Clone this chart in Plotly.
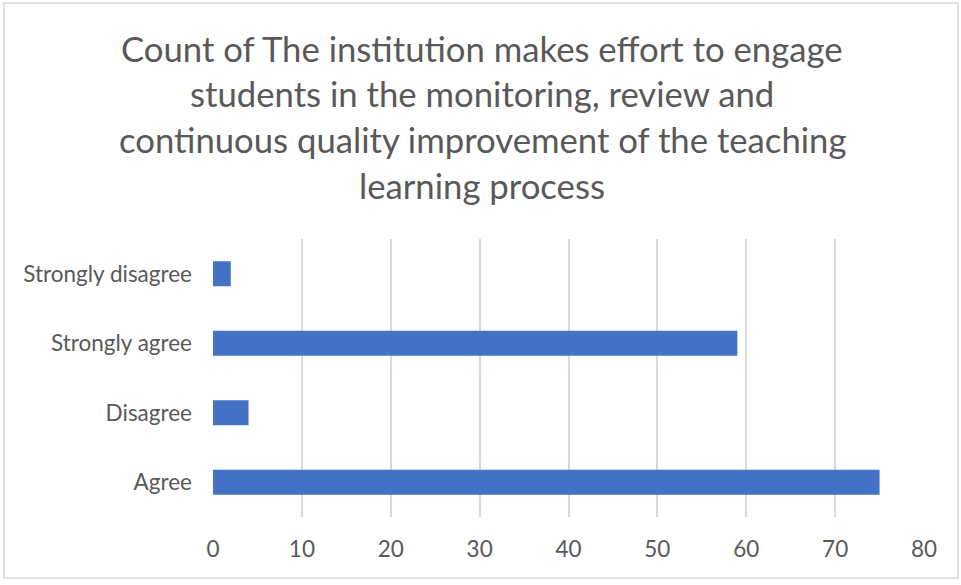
import plotly.graph_objects as go

categories = ["Agree", "Disagree", "Strongly agree", "Strongly disagree"]
counts = [75, 4, 59, 2]
x_ticks = [0, 10, 20, 30, 40, 50, 60, 70, 80]
title_lines = [
    "Count of The institution makes effort to engage",
    "students in the monitoring, review and",
    "continuous quality improvement of the teaching",
    "learning process",
]

FONT = "Lato"
GRAY = "#595959"

fig = go.Figure(
    go.Bar(
        x=counts,
        y=categories,
        orientation="h",
        marker=dict(color="#4472c4", line=dict(width=0)),
        width=0.36,
    )
)

W, H = 961, 585
L, R, T, B = 213, 37, 239, 68
ph = H - T - B
pw = W - L - R

def px_to_paper_x(px):
    return (px - L) / pw

def px_to_paper_y(py):
    return (H - B - py) / ph

title_centers = [48, 94, 139, 185]
annotations = []
for line, yc in zip(title_lines, title_centers):
    annotations.append(dict(
        text=line, xref="paper", yref="paper",
        x=px_to_paper_x(482), y=px_to_paper_y(yc),
        xanchor="center", yanchor="middle", showarrow=False,
        font=dict(family=FONT, size=34.7, color=GRAY),
    ))

fig.update_layout(
    width=W, height=H,
    margin=dict(l=L, r=R, t=T, b=B, pad=0),
    paper_bgcolor="white", plot_bgcolor="white",
    showlegend=False,
    annotations=annotations,
    bargap=0.64,
    shapes=[dict(
        type="rect", xref="paper", yref="paper",
        x0=px_to_paper_x(4), x1=px_to_paper_x(958),
        y0=px_to_paper_y(578), y1=px_to_paper_y(3),
        line=dict(color="#d9d9d9", width=1.5), fillcolor="rgba(0,0,0,0)",
        layer="below",
    )],
    xaxis=dict(
        range=[0, 80], tickvals=x_ticks, showgrid=True,
        gridcolor="#d9d9d9", gridwidth=1.5, zeroline=False,
        showline=False, ticks="",
        tickfont=dict(family=FONT, size=22.5, color=GRAY),
        ticklabelstandoff=16,
    ),
    yaxis=dict(
        categoryorder="array", categoryarray=categories,
        showgrid=False, zeroline=False, showline=False, ticks="",
        tickfont=dict(family=FONT, size=22.5, color=GRAY),
        ticklabelstandoff=20,
    ),
)

fig.write_html(
    "out.html",
    config={"displayModeBar": False},
    post_script="document.body.style.margin='0';",
)
